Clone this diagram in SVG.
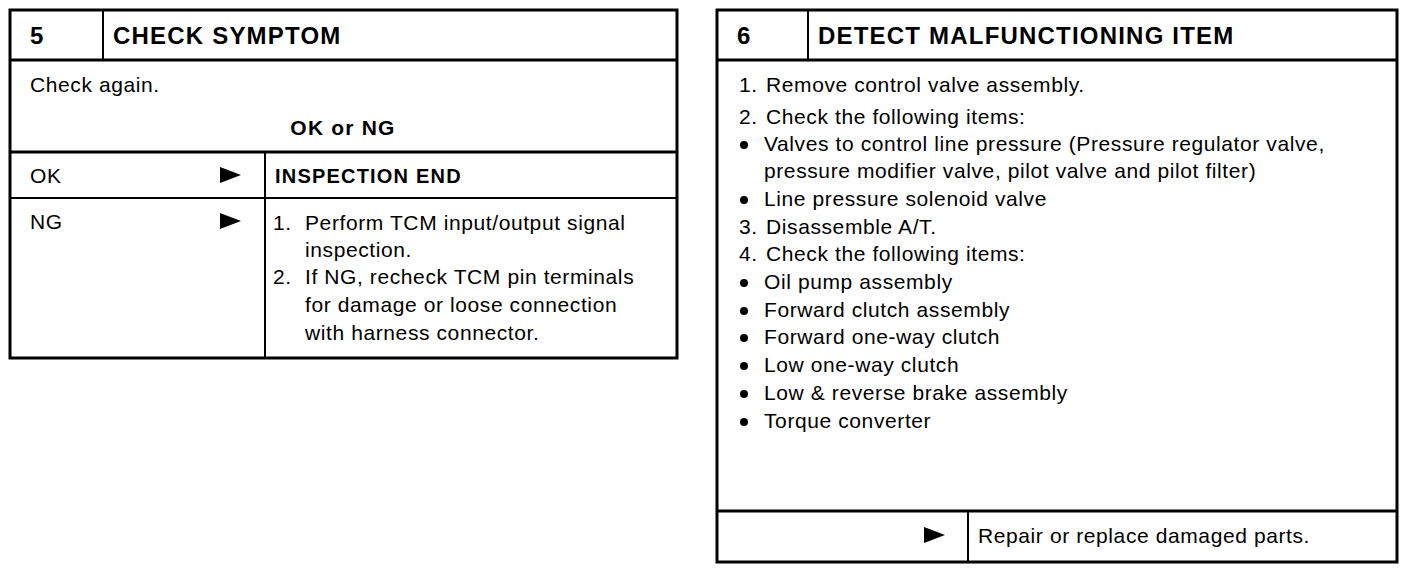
<svg xmlns="http://www.w3.org/2000/svg" width="1408" height="570" viewBox="0 0 1408 570">
<defs>
<style>
.bg{fill:#fff}
.frame{fill:none;stroke:#000;stroke-width:3}
.thin{stroke:#000;stroke-width:2;fill:none}
.thick{stroke:#000;stroke-width:3;fill:none}
.t{font-family:"Liberation Sans",Arial,sans-serif;font-size:21px;letter-spacing:0.6px;fill:#000}
.b{font-family:"Liberation Sans",Arial,sans-serif;font-size:20px;font-weight:bold;letter-spacing:1.2px;fill:#000}
.ok{font-size:21px}
.h{font-family:"Liberation Sans",Arial,sans-serif;font-size:24px;font-weight:bold;letter-spacing:1.2px;fill:#000}
.tri{fill:#000}
.dot{fill:#000}
</style>
</defs>
<rect class="bg" x="0" y="0" width="1408" height="570"/>

<g id="step5">
  <rect class="frame" x="10" y="10" width="667" height="348"/>
  <line class="thick" x1="10" y1="60" x2="677" y2="60"/>
  <line class="thin" x1="103" y1="10" x2="103" y2="60"/>
  <text class="h" x="30" y="44">5</text>
  <text class="h" x="113" y="44">CHECK SYMPTOM</text>
  <text class="t" x="30" y="92">Check again.</text>
  <text class="b ok" x="343" y="135" text-anchor="middle">OK or NG</text>
  <line class="thick" x1="10" y1="152" x2="677" y2="152"/>
  <line class="thin" x1="10" y1="198" x2="677" y2="198"/>
  <line class="thin" x1="265" y1="152" x2="265" y2="358"/>
</g>

<g id="ok-branch">
  <text class="t" x="30" y="183">OK</text>
  <text class="b" x="275" y="183">INSPECTION END</text>
</g>

<g id="ng-branch">
  <text class="t" x="30" y="229">NG</text>
  <text class="t" x="273" y="230">1.</text>
  <text class="t" x="305" y="230">Perform TCM input/output signal</text>
  <text class="t" x="305" y="257">inspection.</text>
  <text class="t" x="273" y="284">2.</text>
  <text class="t" x="305" y="284">If NG, recheck TCM pin terminals</text>
  <text class="t" x="305" y="312">for damage or loose connection</text>
  <text class="t" x="305" y="340">with harness connector.</text>
</g>

<g id="step6">
  <rect class="frame" x="717" y="10" width="680" height="552"/>
  <line class="thick" x1="717" y1="60" x2="1397" y2="60"/>
  <line class="thin" x1="808" y1="10" x2="808" y2="60"/>
  <text class="h" x="737" y="44">6</text>
  <text class="h" x="818" y="44">DETECT MALFUNCTIONING ITEM</text>
  <text class="t" x="739" y="92">1.</text>
  <text class="t" x="766" y="92">Remove control valve assembly.</text>
  <text class="t" x="739" y="124">2.</text>
  <text class="t" x="766" y="124">Check the following items:</text>
  <circle class="dot" cx="744" cy="145" r="4"/>
  <text class="t" x="764" y="151">Valves to control line pressure (Pressure regulator valve,</text>
  <text class="t" x="764" y="178">pressure modifier valve, pilot valve and pilot filter)</text>
  <circle class="dot" cx="744" cy="200" r="4"/>
  <text class="t" x="764" y="206">Line pressure solenoid valve</text>
  <text class="t" x="739" y="234">3.</text>
  <text class="t" x="766" y="234">Disassemble A/T.</text>
  <text class="t" x="739" y="261">4.</text>
  <text class="t" x="766" y="261">Check the following items:</text>
  <circle class="dot" cx="744" cy="283" r="4"/>
  <text class="t" x="764" y="289">Oil pump assembly</text>
  <circle class="dot" cx="744" cy="311" r="4"/>
  <text class="t" x="764" y="317">Forward clutch assembly</text>
  <circle class="dot" cx="744" cy="338" r="4"/>
  <text class="t" x="764" y="344">Forward one-way clutch</text>
  <circle class="dot" cx="744" cy="366" r="4"/>
  <text class="t" x="764" y="372">Low one-way clutch</text>
  <circle class="dot" cx="744" cy="394" r="4"/>
  <text class="t" x="764" y="400">Low &amp; reverse brake assembly</text>
  <circle class="dot" cx="744" cy="422" r="4"/>
  <text class="t" x="764" y="428">Torque converter</text>
  <line class="thick" x1="717" y1="511" x2="1397" y2="511"/>
  <line class="thin" x1="968" y1="511" x2="968" y2="562"/>
</g>

<g id="repair">
  <text class="t" x="978" y="543">Repair or replace damaged parts.</text>
</g>

<g id="connectors">
  <polygon class="tri" points="220,167 241,175 220,183"/>
  <polygon class="tri" points="220,213 241,221 220,229"/>
  <polygon class="tri" points="924,527 945,535 924,543"/>
</g>
</svg>
